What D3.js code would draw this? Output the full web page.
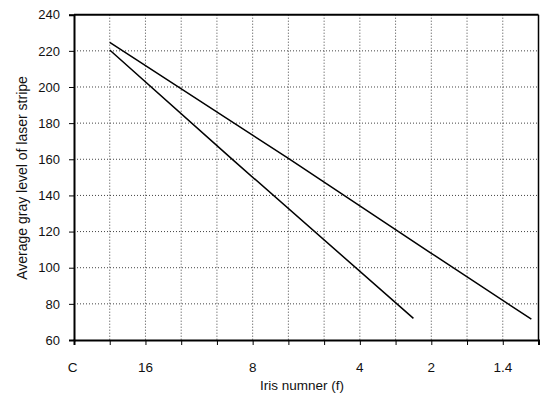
<!DOCTYPE html>
<html>
<head>
  <meta charset="UTF-8" />
  <title>Average gray level vs iris number</title>
  <script src="https://cdn.jsdelivr.net/npm/d3@7"></script>
  <style>
    body {
      margin: 0;
      background: #fff;
      font-family: 'Liberation Sans', Arial, Helvetica, sans-serif;
    }
  </style>
</head>
<body>
  <svg></svg>
  <script>
    // x positions are tick slots (0..13), labels only on some of them
    let xTickSlots = [0, 1, 2, 3, 4, 5, 6, 7, 8, 9, 10, 11, 12, 13];
    let xLabelSlots = [0, 2, 5, 8, 10, 12];
    let xLabels = ['C', '16', '8', '4', '2', '1.4'];
    let yTicks = [60, 80, 100, 120, 140, 160, 180, 200, 220, 240];

    // upper curve
    let upperX = [1, 6, 10, 12.8];
    let upperY = [224.7, 160.5, 108, 71.5];

    // lower curve
    let lowerX = [1, 4.4, 9.5];
    let lowerY = [220.5, 160.5, 72];

    let width = 540,
      height = 397;
    let margin = { top: 14.7, right: 1.5, bottom: 57, left: 74 };

    let svg = d3.select('svg').attr('width', width).attr('height', height);

    let x = d3.scaleLinear().domain([0, 13]).range([margin.left, width - margin.right]);
    let y = d3.scaleLinear().domain([60, 240]).range([height - margin.bottom, margin.top]);

    // dotted grid
    let grid = svg.append('g').attr('stroke', '#444').attr('stroke-width', 1).attr('stroke-dasharray', '1,2');
    grid.selectAll('line.v')
      .data(xTickSlots.slice(1, -1))
      .enter()
      .append('line')
      .attr('class', 'v')
      .attr('x1', d => x(d)).attr('x2', d => x(d))
      .attr('y1', y(240)).attr('y2', y(60));
    grid.selectAll('line.h')
      .data(yTicks.slice(1, -1))
      .enter()
      .append('line')
      .attr('class', 'h')
      .attr('x1', x(0)).attr('x2', x(13))
      .attr('y1', d => y(d)).attr('y2', d => y(d));

    // y axis
    let yAxis = svg.append('g')
      .attr('transform', 'translate(' + x(0) + ',0)')
      .call(d3.axisLeft(y).tickValues(yTicks).tickSize(5).tickPadding(9));
    yAxis.select('.domain').attr('stroke', '#000').attr('stroke-width', 2);
    yAxis.selectAll('text').attr('font-size', 13).attr('fill', '#111')
      .attr('font-family', "'Liberation Sans', Arial, sans-serif");

    // x axis ticks
    let xAxis = svg.append('g')
      .attr('transform', 'translate(0,' + y(60) + ')')
      .call(d3.axisBottom(x).tickValues(xTickSlots).tickSize(5).tickFormat(''));
    xAxis.select('.domain').attr('stroke', '#000').attr('stroke-width', 2);

    svg.append('g')
      .selectAll('text')
      .data(xLabelSlots)
      .enter()
      .append('text')
      .attr('x', d => x(d) - (d === 0 ? 1.5 : 0))
      .attr('y', y(60) + 31.5)
      .attr('text-anchor', 'middle')
      .attr('font-size', 13.5)
      .attr('fill', '#111')
      .text((d, i) => xLabels[i]);

    // top and right frame
    svg.append('line')
      .attr('x1', x(0)).attr('x2', x(13))
      .attr('y1', y(240)).attr('y2', y(240))
      .attr('stroke', '#000').attr('stroke-width', 2);
    svg.append('line')
      .attr('x1', x(13)).attr('x2', x(13))
      .attr('y1', y(240)).attr('y2', y(60))
      .attr('stroke', '#000').attr('stroke-width', 1.5);

    // curves
    let line = d3.line().x(d => x(d[0])).y(d => y(d[1]));
    [d3.zip(upperX, upperY), d3.zip(lowerX, lowerY)].forEach(pts => {
      svg.append('path')
        .attr('d', line(pts))
        .attr('fill', 'none')
        .attr('stroke', '#000')
        .attr('stroke-width', 1.5);
    });

    // axis titles
    svg.append('text')
      .attr('transform', 'translate(27,' + 178 + ') rotate(-90)')
      .attr('text-anchor', 'middle')
      .attr('font-size', 14)
      .attr('fill', '#111')
      .text('Average gray level of laser stripe');

    svg.append('text')
      .attr('x', 302)
      .attr('y', 390)
      .attr('text-anchor', 'middle')
      .attr('font-size', 13.5)
      .attr('fill', '#111')
      .text('Iris numner (f)');
  </script>
</body>
</html>
